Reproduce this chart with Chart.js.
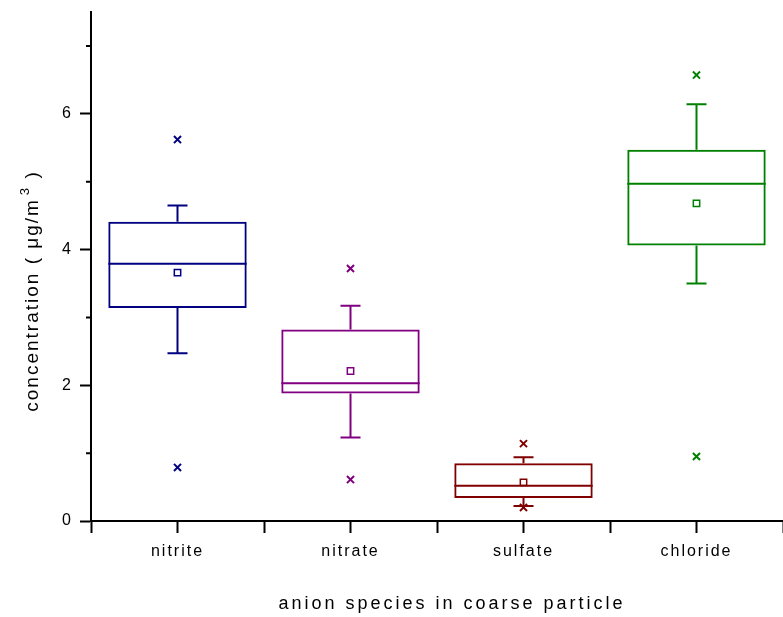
<!DOCTYPE html>
<html>
<head>
<meta charset="utf-8">
<title>Anion species in coarse particle</title>
<script src="https://cdn.jsdelivr.net/npm/chart.js@4.4.1/dist/chart.umd.min.js"></script>
<style>
  body { margin: 0; background: #fff; }
  #boxChart { display: block; }
</style>
</head>
<body>
<canvas id="boxChart" width="783" height="617"></canvas>
<script>
// box plot stats per anion (ug/m3)
const species = ["nitrite", "nitrate", "sulfate", "chloride"];
const q1 = [3.14, 1.88, 0.34, 4.06];
const q3 = [4.41, 2.82, 0.85, 5.47];
const medians = [3.79, 2.03, 0.52, 4.97];
const means = [3.66, 2.21, 0.57, 4.68];
const whiskerLow = [2.47, 1.23, 0.22, 3.50];
const whiskerHigh = [4.65, 3.17, 0.94, 6.14];
const outlierMax = [5.62, 3.72, 1.14, 6.57];
const outlierMin = [0.79, 0.61, 0.20, 0.95];
const yTicks = [0, 2, 4, 6];

const colors = ["#000080", "#800080", "#800000", "#008000"];
const FONT = '"Liberation Sans", Arial, sans-serif';

Chart.defaults.font.family = FONT;
Chart.defaults.color = "#000";

// whiskers, medians, extra ticks and axis titles
const boxExtras = {
  id: "boxExtras",
  beforeDraw(chart) {
    chart.ctx.letterSpacing = "2px";
  },
  afterDatasetsDraw(chart) {
    const ctx = chart.ctx;
    const x = chart.scales.x;
    const y = chart.scales.y;
    const bars = chart.getDatasetMeta(0).data;
    ctx.save();
    ctx.lineWidth = 2;
    species.forEach((name, i) => {
      const cx = x.getPixelForValue(i);
      const half = bars[i].width / 2;
      const cap = 10;
      ctx.strokeStyle = colors[i];
      ctx.beginPath();
      // median
      ctx.moveTo(cx - half, y.getPixelForValue(medians[i]));
      ctx.lineTo(cx + half, y.getPixelForValue(medians[i]));
      // upper whisker
      ctx.moveTo(cx, y.getPixelForValue(q3[i]));
      ctx.lineTo(cx, y.getPixelForValue(whiskerHigh[i]));
      ctx.moveTo(cx - cap, y.getPixelForValue(whiskerHigh[i]));
      ctx.lineTo(cx + cap, y.getPixelForValue(whiskerHigh[i]));
      // lower whisker
      ctx.moveTo(cx, y.getPixelForValue(q1[i]));
      ctx.lineTo(cx, y.getPixelForValue(whiskerLow[i]));
      ctx.moveTo(cx - cap, y.getPixelForValue(whiskerLow[i]));
      ctx.lineTo(cx + cap, y.getPixelForValue(whiskerLow[i]));
      ctx.stroke();
    });
    ctx.restore();
  },
  afterDraw(chart) {
    const ctx = chart.ctx;
    const x = chart.scales.x;
    const y = chart.scales.y;
    const area = chart.chartArea;
    ctx.save();
    ctx.strokeStyle = "#000";
    ctx.lineWidth = 2;
    ctx.beginPath();
    // ticks under each category centre
    species.forEach((name, i) => {
      const px = x.getPixelForValue(i);
      ctx.moveTo(px, area.bottom);
      ctx.lineTo(px, area.bottom + 12);
    });
    // minor ticks on y
    for (let v = 1; v <= 7; v += 2) {
      const py = y.getPixelForValue(v);
      ctx.moveTo(area.left - 5, py);
      ctx.lineTo(area.left, py);
    }
    ctx.stroke();

    ctx.fillStyle = "#000";
    // x title
    ctx.font = "18px " + FONT;
    ctx.letterSpacing = "3px";
    ctx.textAlign = "center";
    ctx.textBaseline = "middle";
    ctx.fillText("anion species in coarse particle", (area.left + area.right) / 2 + 15, 604);

    // y title with superscript
    ctx.letterSpacing = "2px";
    ctx.textAlign = "left";
    ctx.translate(33, 291);
    ctx.rotate(-Math.PI / 2);
    const main = "concentration ( \u03bcg/m";
    const sup = "3";
    const tail = " )";
    ctx.font = "19px " + FONT;
    const wMain = ctx.measureText(main).width;
    const wTail = ctx.measureText(tail).width;
    ctx.font = "13px " + FONT;
    const wSup = ctx.measureText(sup).width;
    const total = wMain + 3 + wSup + wTail;
    let pos = -total / 2;
    ctx.font = "19px " + FONT;
    ctx.fillText(main, pos, 0);
    pos += wMain + 3;
    ctx.font = "13px " + FONT;
    ctx.fillText(sup, pos, -8);
    pos += wSup;
    ctx.font = "19px " + FONT;
    ctx.fillText(tail, pos, 0);
    ctx.restore();
  }
};

new Chart(document.getElementById("boxChart"), {
  type: "bar",
  data: {
    labels: species,
    datasets: [
      {
        label: "IQR",
        data: species.map((_, i) => [q1[i], q3[i]]),
        backgroundColor: "rgba(0,0,0,0)",
        borderColor: colors,
        borderWidth: 2,
        borderSkipped: false,
        barPercentage: 0.8,
        categoryPercentage: 1
      },
      {
        type: "line",
        label: "Mean",
        data: means,
        showLine: false,
        pointStyle: "rect",
        pointRadius: 4.5,
        pointBorderWidth: 1.5,
        pointBackgroundColor: "#fff",
        pointBorderColor: colors
      },
      {
        type: "line",
        label: "Max",
        data: outlierMax,
        showLine: false,
        pointStyle: "crossRot",
        pointRadius: 5,
        pointBorderWidth: 2,
        pointBorderColor: colors
      },
      {
        type: "line",
        label: "Min",
        data: outlierMin,
        showLine: false,
        pointStyle: "crossRot",
        pointRadius: 5,
        pointBorderWidth: 2,
        pointBorderColor: colors
      }
    ]
  },
  options: {
    responsive: false,
    animation: false,
    layout: { autoPadding: false, padding: { top: 12, right: -2, left: 0, bottom: 0 } },
    plugins: {
      legend: { display: false },
      tooltip: { enabled: false }
    },
    scales: {
      x: {
        offset: true,
        grid: {
          offset: true,
          drawOnChartArea: false,
          tickLength: 12,
          tickWidth: 2,
          color: "#000"
        },
        border: { display: true, color: "#000", width: 2 },
        ticks: { font: { size: 16 }, padding: 9, maxRotation: 0 },
        afterFit(scale) {
          scale.height = 96;
          scale.paddingLeft = 0;
          scale.paddingRight = 0;
        }
      },
      y: {
        min: 0,
        max: 7.5,
        grid: {
          drawOnChartArea: false,
          tickLength: 11,
          tickWidth: 2,
          tickColor: (c) => yTicks.includes(c.tick.value) ? "#000" : "rgba(0,0,0,0)"
        },
        border: { display: true, color: "#000", width: 2 },
        ticks: {
          stepSize: 1,
          includeBounds: false,
          padding: 7,
          font: { size: 16 },
          callback: (v) => yTicks.includes(v) ? v : ""
        },
        afterFit(scale) {
          scale.width = 91;
          scale.paddingTop = 0;
          scale.paddingBottom = 0;
        }
      }
    }
  },
  plugins: [boxExtras]
});
</script>
</body>
</html>
